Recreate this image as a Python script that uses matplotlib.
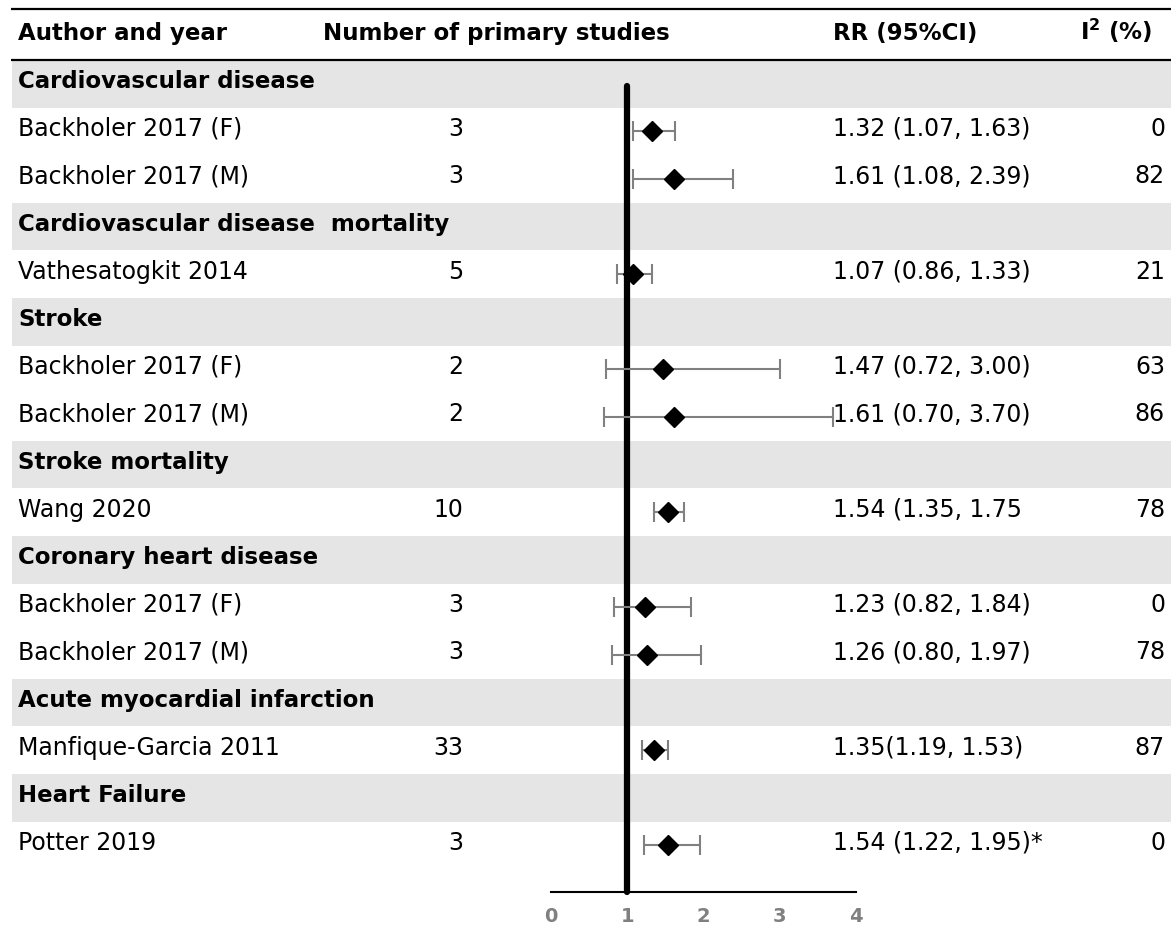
import numpy as np
import matplotlib.pyplot as plt

plt.rcParams['font.family'] = ['DejaVu Sans']
plt.rcParams['mathtext.fontset'] = 'dejavusans'

# ----------------------------------------
# data
# ----------------------------------------
categories = ["Cardiovascular disease", "Cardiovascular disease  mortality", "Stroke",
              "Stroke mortality", "Coronary heart disease", "Acute myocardial infarction",
              "Heart Failure"]
group_sizes = [2, 1, 2, 1, 2, 1, 1]

authors = ["Backholer 2017 (F)", "Backholer 2017 (M)", "Vathesatogkit 2014",
           "Backholer 2017 (F)", "Backholer 2017 (M)", "Wang 2020",
           "Backholer 2017 (F)", "Backholer 2017 (M)", "Manfique-Garcia 2011",
           "Potter 2019"]
n_studies = [3, 3, 5, 2, 2, 10, 3, 3, 33, 3]
rr = np.array([1.32, 1.61, 1.07, 1.47, 1.61, 1.54, 1.23, 1.26, 1.35, 1.54])
lo = np.array([1.07, 1.08, 0.86, 0.72, 0.70, 1.35, 0.82, 0.80, 1.19, 1.22])
hi = np.array([1.63, 2.39, 1.33, 3.00, 3.70, 1.75, 1.84, 1.97, 1.53, 1.95])
rr_labels = ["1.32 (1.07, 1.63)", "1.61 (1.08, 2.39)", "1.07 (0.86, 1.33)",
             "1.47 (0.72, 3.00)", "1.61 (0.70, 3.70)", "1.54 (1.35, 1.75",
             "1.23 (0.82, 1.84)", "1.26 (0.80, 1.97)", "1.35(1.19, 1.53)",
             "1.54 (1.22, 1.95)*"]
i2 = [0, 82, 21, 63, 86, 78, 0, 78, 87, 0]
x_ticks = [0, 1, 2, 3, 4]

# ----------------------------------------
# rows: category header followed by its studies
# ----------------------------------------
rows = []
k = 0
for cat, size in zip(categories, group_sizes):
    rows.append(('cat', cat))
    for _ in range(size):
        rows.append(('study', k))
        k += 1

W, H = 1171, 928
row_top, row_h = 61, 47.6


def to_row(py):
    return (py - row_top) / row_h - 0.5


fig = plt.figure(figsize=(W / 100, H / 100), dpi=100)
tab = fig.add_axes([0, 0, 1, 1])
tab.set_xlim(0, W)
tab.set_ylim(to_row(H), to_row(0))
tab.axis('off')

axis_y = 893
x0, x1 = 551, 856
ax = fig.add_axes([x0 / W, (H - axis_y) / H, (x1 - x0) / W, axis_y / H])
ax.set_xlim(0, 4)
ax.set_ylim(to_row(axis_y), to_row(0))
ax.patch.set_alpha(0)

fs = 17      # body text
fs_b = 16.5  # bold headers / categories
base = 0.07  # baseline offset in rows

# header
tab.hlines([to_row(10), to_row(61)], 11, W, color='black', lw=1.6)
hy = to_row(40)
tab.text(18, hy, "Author and year", fontsize=fs_b, fontweight='bold', va='baseline')
tab.text(323, hy, "Number of primary studies", fontsize=fs_b, fontweight='bold', va='baseline')
tab.text(833, hy, "RR (95%CI)", fontsize=fs_b, fontweight='bold', va='baseline')
tab.text(1080, hy, r"$\mathbf{I^2}$ (%)", fontsize=fs_b, fontweight='bold', va='baseline')

# table body
study_y = []
for i, (kind, val) in enumerate(rows):
    if kind == 'cat':
        tab.barh(i, W - 12, left=12, height=1, color='#e5e5e5', lw=0)
        tab.text(18, i + base, val, fontsize=fs_b, fontweight='bold', va='baseline')
    else:
        study_y.append(i)
        tab.text(18, i + base, authors[val], fontsize=fs, va='baseline')
        tab.text(463, i + base, str(n_studies[val]), fontsize=fs, va='baseline', ha='right')
        tab.text(833, i + base, rr_labels[val], fontsize=fs, va='baseline')
        tab.text(1165, i + base, str(i2[val]), fontsize=fs, va='baseline', ha='right')
study_y = np.array(study_y)

# forest plot
ax.plot([1, 1], [0.05, to_row(axis_y)], color='black', lw=4.5,
        solid_capstyle='round', clip_on=False, zorder=2)
ax.errorbar(rr, study_y, xerr=[rr - lo, hi - rr], fmt='none', ecolor='#808080',
            elinewidth=1.5, capsize=7.5, capthick=1.5, zorder=3)
ax.plot(rr, study_y, 'D', color='black', ms=10.5, zorder=4)

for s in ['top', 'left', 'right']:
    ax.spines[s].set_visible(False)
ax.spines['bottom'].set_linewidth(1.5)
ax.set_yticks([])
ax.set_xticks(x_ticks)
ax.tick_params(axis='x', length=0, pad=10, labelcolor='#808080', labelsize=14)
for t in ax.get_xticklabels():
    t.set_fontweight('bold')

fig.savefig('out.png', dpi=100)
